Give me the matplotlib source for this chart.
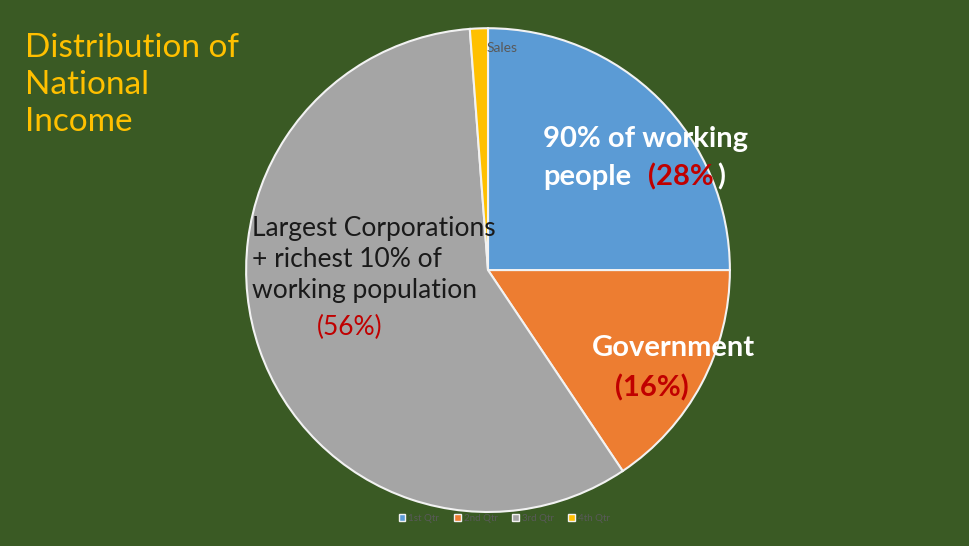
import matplotlib
matplotlib.use("Agg")
import matplotlib.pyplot as plt
from matplotlib.patches import Patch

plt.rcParams['font.family'] = ['Lato', 'DejaVu Sans']
categories = ["1st Qtr", "2nd Qtr", "3rd Qtr", "4th Qtr"]
values = [25.0, 15.6, 58.2, 1.2]
colors = ["#5b9bd5", "#ed7d31", "#a5a5a5", "#ffc000"]
bg = "#3a5a24"

fig = plt.figure(figsize=(9.7, 5.46), dpi=100, facecolor=bg)
ax = fig.add_axes([0.2536, 0.0623, 0.499, 0.886])
ax.set_facecolor(bg)
ax.pie(values, colors=colors, startangle=90, counterclock=False,
       wedgeprops=dict(edgecolor="#f2f2f2", linewidth=1.5))
ax.set_xlim(-1.0, 1.0)
ax.set_ylim(-1.0, 1.0)
ax.set_aspect('equal')
ax.axis('off')

fig.text(0.026, 0.94, "Distribution of\nNational\nIncome", color="#ffc000", fontsize=24,
         va="top", ha="left", linespacing=1.3)
fig.text(0.518, 0.912, "Sales", color="#595959", fontsize=10, ha="center", va="center")

fig.text(0.56, 0.745, "90% of working", color="white", fontsize=21, fontweight="bold", va="center")
fig.text(0.56, 0.676, "people", color="white", fontsize=21, fontweight="bold", va="center")
fig.text(0.668, 0.676, "(28%", color="#c00000", fontsize=21, fontweight="bold", va="center")
fig.text(0.739, 0.676, ")", color="white", fontsize=21, fontweight="bold", va="center")

fig.text(0.61, 0.362, "Government", color="white", fontsize=21, fontweight="bold", va="center")
fig.text(0.672, 0.29, "(16%)", color="#c00000", fontsize=21, fontweight="bold", ha="center", va="center")

fig.text(0.26, 0.524, "Largest Corporations\n+ richest 10% of\nworking population",
         color="#1a1a1a", fontsize=19, va="center", linespacing=1.3)
fig.text(0.36, 0.4, "(56%)", color="#c00000", fontsize=19, ha="center", va="center")

handles = [Patch(facecolor=c, edgecolor="#f2f2f2") for c in colors]
fig.legend(handles, categories, loc="center", bbox_to_anchor=(0.52, 0.05), ncol=4,
           frameon=False, fontsize=7, labelcolor="#595959", handlelength=0.7,
           handleheight=0.7, columnspacing=1.5, handletextpad=0.3)

fig.savefig("out.png", dpi=100, facecolor=bg)
